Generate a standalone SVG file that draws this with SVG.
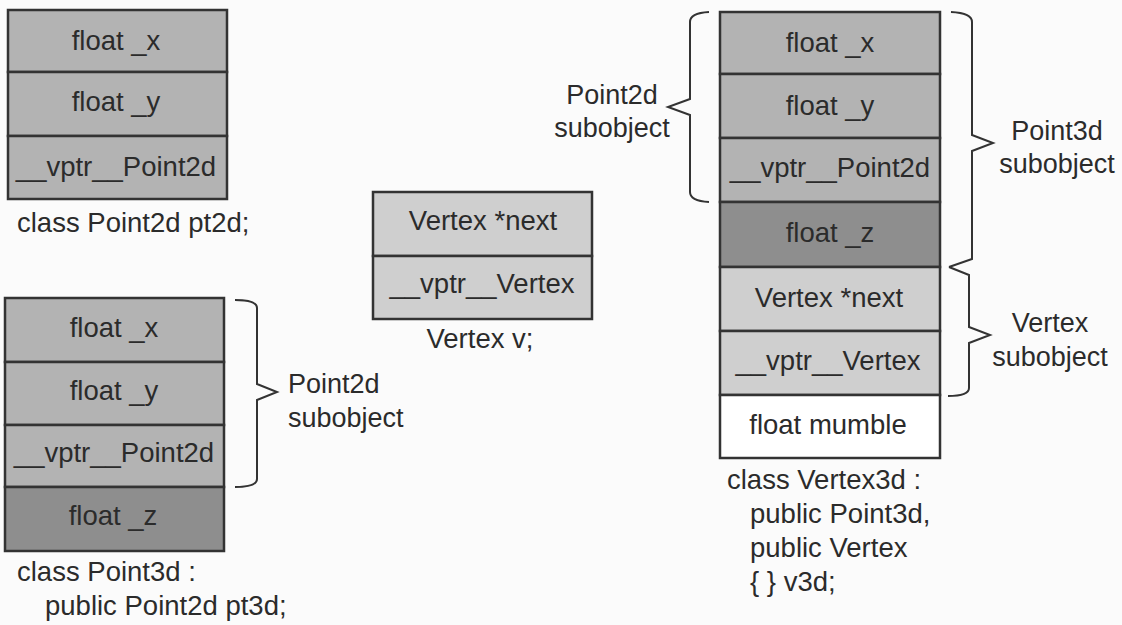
<svg xmlns="http://www.w3.org/2000/svg" width="1122" height="625" viewBox="0 0 1122 625">
  <style>
    text { font-family: "Liberation Sans", Arial, sans-serif; font-size: 27.5px; fill: #2b2b2b; }
    .c { text-anchor: middle; }
    .lb { font-size: 27px; }
    .cell { stroke: #333; stroke-width: 2.5; }
    .pt { fill: #b3b3b3; }
    .z { fill: #8e8e8e; }
    .vx { fill: #cfcfcf; }
    .wh { fill: #ffffff; }
    .brace { fill: none; stroke: #333; stroke-width: 2; stroke-linejoin: miter; }
  </style>
  <rect width="1122" height="625" fill="#fbfbfb"/>

  <g id="pt2d">
    <rect class="cell pt" x="8" y="10" width="219" height="62"/>
    <rect class="cell pt" x="8" y="72" width="219" height="64"/>
    <rect class="cell pt" x="8" y="136" width="219" height="63"/>
    <text class="c" x="116" y="50">float _x</text>
    <text class="c" x="116" y="111">float _y</text>
    <text class="c" x="116" y="176">__vptr__Point2d</text>
    <text x="17" y="232">class Point2d pt2d;</text>
  </g>

  <g id="pt3d">
    <rect class="cell pt" x="5" y="298" width="219" height="64"/>
    <rect class="cell pt" x="5" y="362" width="219" height="63"/>
    <rect class="cell pt" x="5" y="425" width="219" height="62"/>
    <rect class="cell z" x="5" y="487" width="219" height="64"/>
    <text class="c" x="114" y="337">float _x</text>
    <text class="c" x="114" y="400">float _y</text>
    <text class="c" x="114" y="462">__vptr__Point2d</text>
    <text class="c" x="113" y="525">float _z</text>
    <text x="17" y="581">class Point3d :</text>
    <text x="45" y="615">public Point2d pt3d;</text>
    <text class="lb" x="288" y="393">Point2d</text>
    <text class="lb" x="288" y="427">subobject</text>
  </g>

  <g id="vertex">
    <rect class="cell vx" x="373" y="192" width="219" height="64"/>
    <rect class="cell vx" x="373" y="256" width="219" height="63"/>
    <text class="c" x="483" y="230">Vertex *next</text>
    <text class="c" x="482" y="293">__vptr__Vertex</text>
    <text class="c" x="480" y="348">Vertex v;</text>
  </g>

  <g id="v3d">
    <rect class="cell pt" x="720" y="12" width="220" height="62"/>
    <rect class="cell pt" x="720" y="74" width="220" height="64"/>
    <rect class="cell pt" x="720" y="138" width="220" height="64"/>
    <rect class="cell z" x="720" y="202" width="220" height="65"/>
    <rect class="cell vx" x="720" y="267" width="220" height="64"/>
    <rect class="cell vx" x="720" y="331" width="220" height="64"/>
    <rect class="cell wh" x="720" y="395" width="220" height="63"/>
    <text class="c" x="830" y="52">float _x</text>
    <text class="c" x="830" y="115">float _y</text>
    <text class="c" x="830" y="177">__vptr__Point2d</text>
    <text class="c" x="830" y="242">float _z</text>
    <text class="c" x="829" y="307">Vertex *next</text>
    <text class="c" x="828" y="370">__vptr__Vertex</text>
    <text class="c" x="828" y="434">float mumble</text>
    <text x="727" y="489">class Vertex3d :</text>
    <text x="750" y="523">public Point3d,</text>
    <text x="750" y="557">public Vertex</text>
    <text x="750" y="591">{ } v3d;</text>
    <text class="c lb" x="612" y="104">Point2d</text>
    <text class="c lb" x="612" y="137">subobject</text>
    <text class="c lb" x="1057" y="140">Point3d</text>
    <text class="c lb" x="1057" y="173">subobject</text>
    <text class="c lb" x="1050" y="332">Vertex</text>
    <text class="c lb" x="1050" y="366">subobject</text>
  </g>

  <g id="connectors">
    <path class="brace" d="M235,300 Q257,300 257,308 L257,384 L277,392 L257,400 L257,479 Q257,487 235,487"/>
    <path class="brace" d="M709,12 Q690,13 690,22 L690,99 L668,107 L690,115 L690,192 Q690,201 709,202"/>
    <path class="brace" d="M951,12 Q972,13 972,22 L972,135 L993,143 L972,151 L972,259 L949,267"/>
    <path class="brace" d="M949,267 L969,275 L969,327 L990,335 L969,343 L969,388 Q969,396 948,396"/>
  </g>
</svg>
